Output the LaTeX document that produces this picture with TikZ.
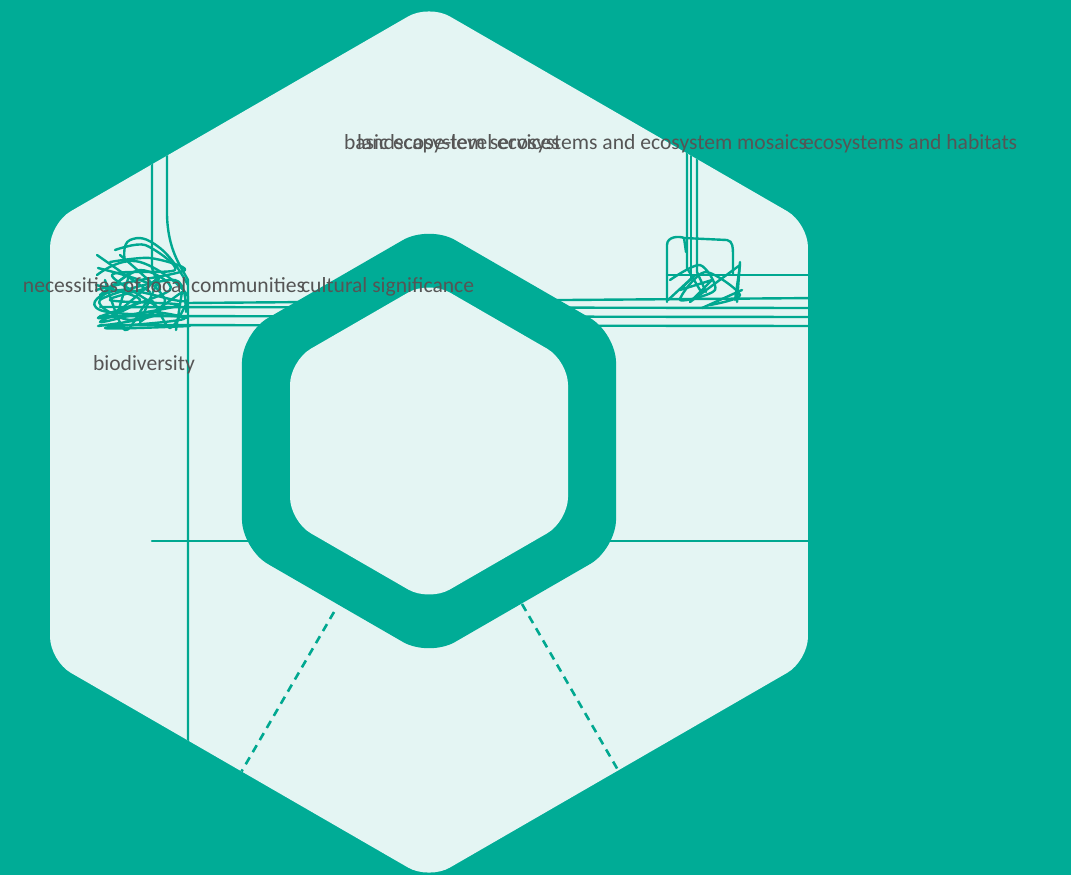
\documentclass[tikz,border=0pt]{standalone}
\usepackage{fontspec}
\setmainfont{Carlito}
\usetikzlibrary{positioning}
\definecolor{cteal}{HTML}{00AC96}
\definecolor{cpale}{HTML}{E4F5F3}
\definecolor{cwire}{HTML}{00A890}
\definecolor{ctext}{HTML}{555555}
\newcommand\hexpath[1]{(-90:#1) -- (-30:#1) -- (30:#1) -- (90:#1) -- (150:#1) -- (210:#1) -- cycle}
\tikzset{
  every picture/.style={line width=1pt},
  wire/.style={draw=cwire, line width=1.2pt, line join=round, line cap=round},
  guide/.style={draw=cwire, line width=1.3pt, dash pattern=on 4pt off 3pt},
  label/.style={font=\fontsize{10.8}{13}\selectfont, text=ctext, inner sep=0pt, outer sep=0pt, anchor=base west},
}

\begin{document}
\begin{tikzpicture}[x=0.5pt, y=-0.5pt]
  \useasboundingbox (0,0) rectangle (1071,875);
  \fill[cteal] (0,0) rectangle (1071,875);
  \fill[cpale, shift={(429,442)}, rounded corners=12pt] \hexpath{437.6};
  \begin{scope}
    \clip[shift={(429,442)}, rounded corners=12pt] \hexpath{437.6};
    \draw[wire] (152,100) -- (152,268) -- (160,290);
    \draw[wire] (167,100) -- (167,215) .. controls (168,250) and (180,265) .. (188,280) -- (188,800);
    \draw[wire] (687,100) -- (687,268) -- (700,290);
    \draw[wire] (691,100) -- (691,280);
    \draw[wire] (697,100) -- (697,272) -- (706,292);
    \draw[wire] (185,303) -- (818,298);
    \foreach \y in {308,317,326} {\draw[wire] (100,\y-1) -- (818,\y);}
    \draw[wire] (667,275) -- (818,275);
    \draw[wire] (152,541) -- (818,541);
    \draw[wire] plot[smooth, tension=0.8] coordinates {(97,275) (140,262) (188,300) (120,290) (100,310) (185,318) (105,328) (190,326)};
    \draw[wire] plot[smooth, tension=0.9] coordinates {(125,262) (130,240) (160,248) (188,285)};
    \draw[wire] plot[smooth] coordinates {(98,268) (150,285) (110,300) (180,305) (98,318) (170,290) (140,270) (100,295)};
    \draw[wire] plot[smooth] coordinates {(120,255) (165,300) (130,320) (100,300) (175,280) (186,312)};
    \draw[wire] plot[smooth] coordinates {(105,280) (125,330) (150,300) (170,328) (188,300)};
    \draw[wire] (97,255) -- (150,292);
    \draw[wire] plot[smooth] coordinates {(110,262) (150,258) (185,270) (130,282) (96,290)};
    \draw[wire] plot[smooth] coordinates {(115,250) (145,245) (175,270) (112,275) (160,312) (98,326)};
    \draw[wire] plot coordinates {(100,298) (130,272) (118,312) (160,276) (140,322) (182,292) (176,330)};
    \draw[wire] plot[smooth] coordinates {(96,285) (140,300) (100,322) (150,312) (188,318)};
    \draw[wire] (667,302) -- (667,245) .. controls (667,236) and (680,236) .. (684,238) -- (727,240) .. controls (733,241) and (733,248) .. (733,255) -- (733,275);
    \draw[wire] (684,238) -- (686,252);
    \draw[wire] plot[smooth] coordinates {(670,280) (700,265) (715,290) (680,300) (705,272) (740,295) (710,305)};
    \draw[wire] plot coordinates {(668,300) (695,275) (680,290) (712,280) (690,302) (740,265) (735,300)};
    \draw[wire] (702,308) -- (742,290);
    \draw[wire] (740,262) -- (737,302);
    \draw[guide] (334,612) -- (236,781);
    \draw[guide] (522,604) -- (622,777);
  \end{scope}
  \fill[cteal, shift={(429,441)}, rounded corners=15pt] \hexpath{216};
  \fill[cpale, shift={(429,441)}, rounded corners=12pt] \hexpath{160.5};
  \node[label] (basic) at (344,149) {basic ecosystem services};
  \node[label] (landscape) at (357,149) {landscape-level ecosystems and ecosystem mosaics};
  \node[label, base right=-2pt of landscape] (habitats) {ecosystems and habitats};
  \node[label] (needs) at (23,292) {necessities of local communities};
  \node[label, base right=-2pt of needs] (culture) {cultural significance};
  \node[label] (biodiv) at (93,370) {biodiversity};
\end{tikzpicture}
\end{document}
